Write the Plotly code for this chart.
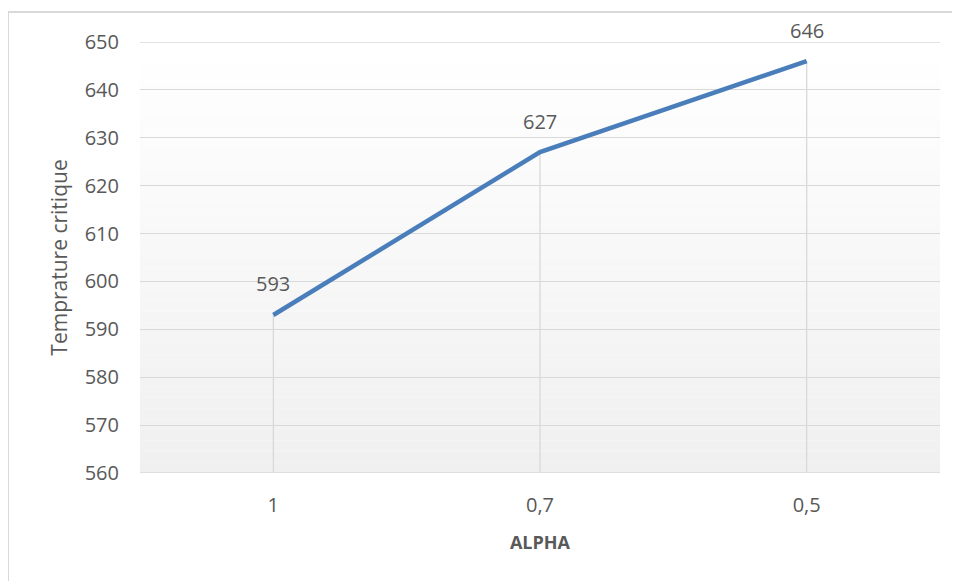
import plotly.graph_objects as go

# === Data ===
alpha_labels = ["1", "0,7", "0,5"]
temp_critique = [593, 627, 646]
y_min, y_max = 560, 650

FONT = "Open Sans, sans-serif"
TEXT = "#595959"
GRID = "#d9d9d9"
LINE = "#4a7ebb"

fig = go.Figure()

# drop lines from each point down to the axis floor
fig.add_trace(go.Scatter(
    x=alpha_labels, y=temp_critique, mode="markers",
    marker=dict(size=1, color="rgba(0,0,0,0)"),
    error_y=dict(
        type="data", symmetric=False,
        array=[0] * len(temp_critique),
        arrayminus=[v - y_min for v in temp_critique],
        color=GRID, thickness=1.3, width=0,
    ),
    hoverinfo="skip", showlegend=False,
))

# main series
fig.add_trace(go.Scatter(
    x=alpha_labels, y=temp_critique, mode="lines",
    line=dict(color=LINE, width=4.5),
    showlegend=False,
))

# data labels (category axis -> use the category index)
for i, v in enumerate(temp_critique):
    fig.add_annotation(
        x=i, y=v, text=str(v), showarrow=False,
        yshift=31, font=dict(family=FONT, size=20, color=TEXT),
    )

# vertical gradient for the plot area (white -> light gray)
steps = 40
for i in range(steps):
    t = i / (steps - 1)
    c = round(255 - t * 15)
    fig.add_shape(
        type="rect", xref="paper", yref="paper", layer="below",
        x0=0, x1=1, y0=1 - (i + 1) / steps, y1=1 - i / steps,
        fillcolor=f"rgb({c},{c},{c})", line=dict(width=0),
    )

# gridlines at the range edges (plotly hides these)
for yv in (y_min, y_max):
    fig.add_shape(
        type="line", xref="paper", yref="y", layer="below",
        x0=0, x1=1, y0=yv, y1=yv,
        line=dict(color=GRID, width=1.3),
    )

# chart frame
fig.add_shape(
    type="rect", xref="paper", yref="paper",
    x0=-0.165, x1=1.05, y0=-0.3, y1=1.0696,
    line=dict(color=GRID, width=2), fillcolor="rgba(0,0,0,0)",
)

# the page body adds an 8px offset, margins compensate for it
fig.update_layout(
    width=960, height=581,
    margin=dict(l=132, r=28, t=34, b=116),
    paper_bgcolor="white",
    plot_bgcolor="rgba(0,0,0,0)",
    font=dict(family=FONT, color=TEXT),
    xaxis=dict(
        type="category", range=[-0.5, 2.5],
        showgrid=False, zeroline=False, showline=False, ticks="",
        tickfont=dict(size=20, color=TEXT), ticklabelstandoff=18,
        title=dict(text="<b>ALPHA</b>", font=dict(size=18, color=TEXT), standoff=19),
    ),
    yaxis=dict(
        range=[y_min, y_max], dtick=10,
        showgrid=True, gridcolor=GRID, gridwidth=1.3,
        zeroline=False, showline=False, ticks="",
        tickfont=dict(size=20, color=TEXT), ticklabelstandoff=20,
        title=dict(text="Temprature critique", font=dict(size=21, color=TEXT), standoff=11),
    ),
)

fig.write_html("out.html")
